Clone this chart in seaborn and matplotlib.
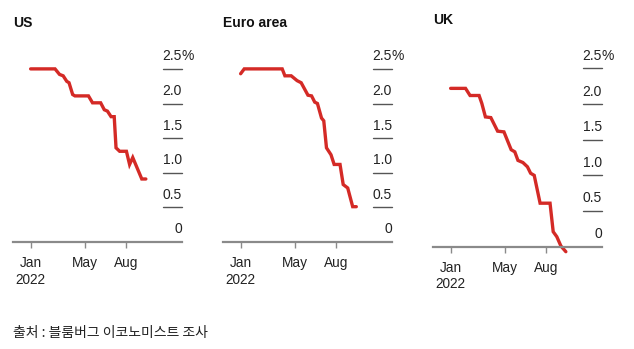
import matplotlib
matplotlib.use("Agg")
import matplotlib.pyplot as plt
import seaborn as sns
import pandas as pd

sns.set_theme(style="white")
plt.rcParams['font.family'] = ['Liberation Sans', 'Noto Sans CJK KR', 'DejaVu Sans']

# ---- data ----
us_dates = ["2022-01-01", "2022-02-24", "2022-03-06", "2022-03-14", "2022-03-22", "2022-03-27",
            "2022-04-04", "2022-04-09", "2022-05-09", "2022-05-18", "2022-06-05", "2022-06-13",
            "2022-06-20", "2022-06-28", "2022-07-05", "2022-07-09", "2022-07-17", "2022-08-01",
            "2022-08-08", "2022-08-15", "2022-09-04", "2022-09-13"]
us_values = [2.50, 2.50, 2.42, 2.40, 2.32, 2.30, 2.13, 2.11, 2.11, 2.01, 2.01, 1.91,
             1.89, 1.81, 1.81, 1.36, 1.31, 1.31, 1.12, 1.22, 0.91, 0.91]

euro_dates = ["2022-01-01", "2022-01-09", "2022-04-03", "2022-04-09", "2022-04-23", "2022-05-06",
              "2022-05-15", "2022-05-30", "2022-06-07", "2022-06-14", "2022-06-20", "2022-06-29",
              "2022-07-04", "2022-07-10", "2022-07-20", "2022-07-27", "2022-08-09", "2022-08-16",
              "2022-08-26", "2022-09-06", "2022-09-14"]
euro_values = [2.43, 2.50, 2.50, 2.40, 2.40, 2.33, 2.30, 2.12, 2.11, 2.02, 2.00, 1.79,
               1.75, 1.36, 1.26, 1.12, 1.12, 0.83, 0.78, 0.51, 0.51]

uk_dates = ["2022-01-01", "2022-02-03", "2022-02-13", "2022-03-05", "2022-03-11", "2022-03-19",
            "2022-03-31", "2022-04-15", "2022-04-29", "2022-05-06", "2022-05-15", "2022-05-23",
            "2022-05-30", "2022-06-10", "2022-06-20", "2022-06-27", "2022-07-05", "2022-07-18",
            "2022-08-09", "2022-08-16", "2022-08-24", "2022-09-02", "2022-09-13"]
uk_values = [2.22, 2.22, 2.12, 2.12, 2.01, 1.82, 1.81, 1.62, 1.61, 1.50, 1.36, 1.33,
             1.21, 1.18, 1.12, 1.03, 1.00, 0.61, 0.61, 0.21, 0.14, 0.01, -0.07]

titles = ["US", "Euro area", "UK"]
y_ticks = [0, 0.5, 1.0, 1.5, 2.0, 2.5]
y_tick_labels = ["0", "0.5", "1.0", "1.5", "2.0", "2.5"]
x_tick_dates = ["2022-01-01", "2022-05-01", "2022-08-01"]
x_tick_labels = ["Jan\n2022", "May", "Aug"]
source = "출처 : 블룸버그 이코노미스트 조사"

RED = "#d42a26"
W, H = 634, 349
fig = plt.figure(figsize=(W / 100, H / 100), dpi=100)

# panel geometry in pixels: (left, right, y_of_zero, y_of_2.65)
panels = [
    (13, 182, 242.0, 58.5),
    (223, 392, 242.0, 58.5),
    (433, 602, 246.7, 57.7),
]
series = [(us_dates, us_values), (euro_dates, euro_values), (uk_dates, uk_values)]
title_y = [23, 23, 20]

xmin = pd.Timestamp("2021-11-23")
xmax = pd.Timestamp("2022-12-02")

for i, ((l, r, y0, y1), (d, v)) in enumerate(zip(panels, series)):
    ax = fig.add_axes([l / W, 1 - y0 / H, (r - l) / W, (y0 - y1) / H])
    df = pd.DataFrame({"date": pd.to_datetime(d), "value": v})
    sns.lineplot(data=df, x="date", y="value", ax=ax, color=RED, linewidth=2.4,
                 clip_on=False, solid_joinstyle="miter")
    ax.set_xlim(xmin, xmax)
    ax.set_ylim(0, 2.65)
    for s in ["top", "right", "left"]:
        ax.spines[s].set_visible(False)
    ax.spines["bottom"].set_color("#8a8a8a")
    ax.spines["bottom"].set_linewidth(1.6)
    ax.set_yticks([])
    ax.set_xlabel("")
    ax.set_ylabel("")
    ax.set_xticks(pd.to_datetime(x_tick_dates))
    ax.set_xticklabels(x_tick_labels, fontsize=9.8, color="#222222", linespacing=1.25)
    for lab in ax.get_xticklabels():
        lab.set_horizontalalignment("center")
        lab.set_multialignment("center")
        lab.set_verticalalignment("top")
    ax.tick_params(axis="x", direction="out", length=4, width=1, color="#8a8a8a", pad=6,
                   bottom=True)
    # short gridlines on the right, with labels above
    for yv, lab in zip(y_ticks, y_tick_labels):
        if yv > 0:
            ax.plot([0.885, 1.0], [yv, yv], transform=ax.get_yaxis_transform(),
                    color="#555555", linewidth=1.0, clip_on=False, zorder=1)
        ax.annotate(lab, xy=(1.0, yv), xycoords=ax.get_yaxis_transform(),
                    xytext=(0, 4), textcoords="offset points", ha="right", va="bottom",
                    fontsize=10, color="#222222")
        if lab == "2.5":
            ax.annotate("%", xy=(1.0, yv), xycoords=ax.get_yaxis_transform(),
                        xytext=(0, 4), textcoords="offset points", ha="left", va="bottom",
                        fontsize=10, color="#222222")
    fig.text((l) / W, 1 - title_y[i] / H, titles[i], fontsize=10, fontweight="bold",
             ha="left", va="center", color="#111111")

fig.text(13 / W, 1 - 333 / H, source, fontsize=10, ha="left", va="center", color="#222222",
         family=["Noto Sans CJK KR", "DejaVu Sans"])

fig.savefig("out.png", dpi=100)
